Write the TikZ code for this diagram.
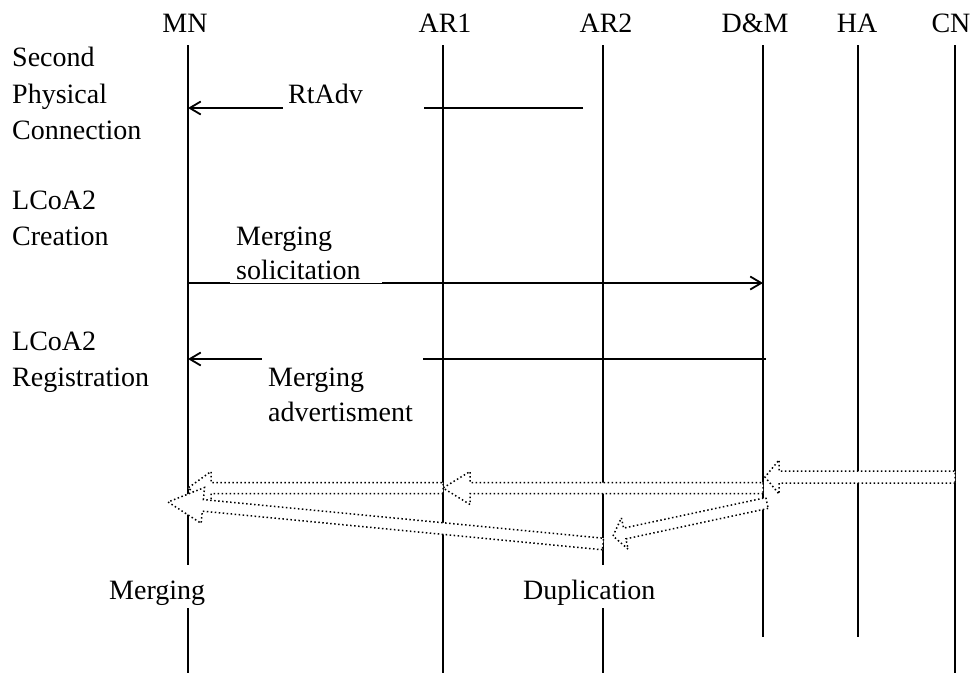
\documentclass[tikz,border=0pt]{standalone}
\usepackage{fontspec}
\setmainfont{Liberation Serif}
\usetikzlibrary{arrows.meta,calc}
\tikzset{
  life/.style={line width=1.8pt},
  msgarr/.style={line width=1.8pt,-{Straight Barb[length=11pt,width=13pt]}},
  txt/.style={font=\fontsize{28}{36}\selectfont, inner sep=0pt, anchor=base west},
  hdr/.style={font=\fontsize{28}{36}\selectfont, inner sep=0pt, anchor=base},
  dotarrow/.style={fill=white, line width=1.5pt, dash pattern=on 1.5pt off 2.5pt, line join=miter},
  gapbox/.style={fill=white, draw=none}
}
\newcommand\blockarr[5]{%
  \path ($(#2)!#5!(#1)$) coordinate (hb);
  \draw[dotarrow] ($(#1)!#3!90:(#2)$) -- ($(hb)!#3!-90:(#1)$) -- ($(hb)!#4!-90:(#1)$)
     -- (#2) -- ($(hb)!#4!90:(#1)$) -- ($(hb)!#3!90:(#1)$) -- ($(#1)!#3!-90:(#2)$) -- cycle;}
\begin{document}
\begin{tikzpicture}[x=1pt,y=-1pt]
\useasboundingbox (0,0) rectangle (971,673);
% headers
\node[hdr] (MN) at (185,32) {MN};
\node[hdr] (AR1) at (445,32) {AR1};
\node[hdr] (AR2) at (606,32) {AR2};
\node[hdr] (DM) at (755,32) {D\&M};
\node[hdr] (HA) at (857,32) {HA};
\node[hdr] (CN) at (951,32) {CN};
% lifelines
\coordinate (MNt) at (188,45);  \coordinate (MNb) at (188,673);
\coordinate (AR1t) at (443,45); \coordinate (AR1b) at (443,673);
\coordinate (AR2t) at (603,45); \coordinate (AR2b) at (603,673);
\coordinate (DMt) at (763,45);  \coordinate (DMb) at (763,637);
\coordinate (HAt) at (858,45);  \coordinate (HAb) at (858,637);
\coordinate (CNt) at (955,45);  \coordinate (CNb) at (955,673);
\foreach \l in {MN,AR1,AR2,DM,HA,CN} \draw[life] (\l t) -- (\l b);
% left phase labels
\node[txt] (s1) at (12,66) {Second};
\node[txt] (s2) at (12,103) {Physical};
\node[txt] (s3) at (12,139) {Connection};
\node[txt] (c1) at (12,209) {LCoA2};
\node[txt] (c2) at (12,245) {Creation};
\node[txt] (r1) at (12,350) {LCoA2};
\node[txt] (r2) at (12,386) {Registration};
% RtAdv
\coordinate (rtS) at (583,108); \coordinate (rtE) at (188,108);
\draw[msgarr] (rtS) -- (rtE);
\fill[gapbox] (283,96) rectangle (424,120);
\node[txt] (rtadv) at (288,103) {RtAdv};
% Merging solicitation
\coordinate (msS) at (188,283); \coordinate (msE) at (763,283);
\draw[msgarr] (msS) -- (msE);
\fill[gapbox] (230,255) rectangle (382,283.0);
\node[txt] (ms1) at (236,245) {Merging};
\node[txt] (ms2) at (236,279.5) {solicitation};
% Merging advertisment
\coordinate (maS) at (766,359); \coordinate (maE) at (188,359);
\draw[msgarr] (maS) -- (maE);
\fill[gapbox] (262,348) rectangle (423,372);
\node[txt] (ma1) at (268,386) {Merging};
\node[txt] (ma2) at (268,421) {advertisment};
% block arrows (data flows)
\coordinate (f1a) at (955,477); \coordinate (f1b) at (765,477);
\coordinate (f2a) at (763,488); \coordinate (f2b) at (443,488);
\coordinate (f3a) at (443,488); \coordinate (f3b) at (188,488);
\coordinate (f4a) at (767,503); \coordinate (f4b) at (613,536);
\coordinate (f5a) at (603,544); \coordinate (f5b) at (168,502);
\blockarr{f1a}{f1b}{6pt}{17pt}{14pt}
\blockarr{f2a}{f2b}{5.5pt}{16.5pt}{27pt}
\blockarr{f3a}{f3b}{5.5pt}{16.5pt}{23pt}
\blockarr{f4a}{f4b}{5.5pt}{16pt}{12pt}
\blockarr{f5a}{f5b}{5.8pt}{18pt}{35pt}
% bottom labels
\fill[gapbox] (180,565) rectangle (196,608);
\node[txt] (merg) at (109,599) {Merging};
\fill[gapbox] (595,565) rectangle (611,608);
\node[txt] (dup) at (523,599) {Duplication};
\end{tikzpicture}
\end{document}
